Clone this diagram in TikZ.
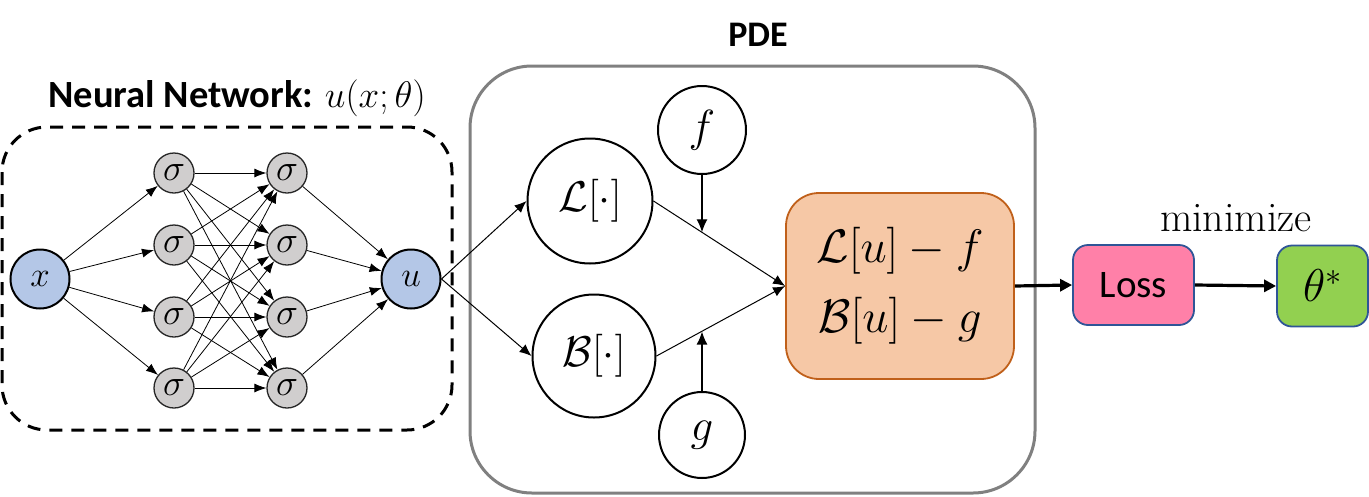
\RequirePackage{fix-cm}
\documentclass[tikz,border=0pt]{standalone}
\usepackage{fontspec}
\newfontfamily\carlito{Carlito}
\usetikzlibrary{arrows.meta,calc}
\definecolor{nnblue}{HTML}{B4C7E7}
\definecolor{sgray}{HTML}{D0CECE}
\definecolor{pdegray}{HTML}{808080}
\definecolor{resfill}{HTML}{F6C8A6}
\definecolor{resdraw}{HTML}{C0601A}
\definecolor{losspink}{HTML}{FF80A8}
\definecolor{boxblue}{HTML}{2F5597}
\definecolor{thgreen}{HTML}{92D050}
\begin{document}
\begin{tikzpicture}[x=1pt,y=-1pt,
  sig/.style={circle,draw=black!85,fill=sgray,line width=1.3pt,minimum size=40pt,inner sep=0pt,font=\fontsize{37}{42}\selectfont},
  io/.style={circle,draw=black,fill=nnblue,line width=2pt,minimum size=59pt,inner sep=0pt,font=\fontsize{35}{40}\selectfont},
  opnode/.style={circle,draw=black,line width=2pt,minimum size=125pt,inner sep=0pt,font=\fontsize{43}{50}\selectfont},
  srcnode/.style={circle,draw=black,line width=2pt,minimum size=88pt,inner sep=0pt,font=\fontsize{45}{54}\selectfont},
  nnarrow/.style={line width=0.8pt,-{Latex[length=12pt,width=9pt]}},
  pdearrow/.style={line width=1pt,-{Latex[length=12pt,width=10pt]}},
  srcarrow/.style={line width=1.3pt,-{Latex[length=13pt,width=11pt]}},
  thickarrow/.style={line width=3.2pt,-{Triangle[length=12pt,width=12pt]}},
  smallbox/.style={draw=boxblue,line width=1.8pt,rounded corners=15pt,inner sep=0pt},
  title/.style={font=\carlito\bfseries\fontsize{36}{42}\selectfont}
]
\useasboundingbox (0,0) rectangle (1369,496);

% Neural network frame and title
\draw[line width=3pt,dash pattern=on 13pt off 9pt,rounded corners=45pt] (2,127) rectangle (452,430);
\node[title,font=\carlito\bfseries\fontsize{38.5}{44}\selectfont,anchor=base] (nntitle) at (237,107) {Neural Network: \fontsize{37}{44}\selectfont$u(x;\theta)$};

% Network nodes
\node[io] (x) at (40,279) {$x$};
\node[io] (u) at (411,279) {$u$};
\foreach \i/\yy in {1/173,2/245,3/317,4/388} {
  \node[sig] (a\i) at (174,\yy) {$\sigma$};
  \node[sig] (b\i) at (287,\yy) {$\sigma$};
}
\foreach \i in {1,...,4} {
  \draw[nnarrow] (x) -- (a\i);
  \draw[nnarrow] (b\i) -- (u);
  \foreach \j in {1,...,4} {\draw[nnarrow] (a\i) -- (b\j);}
}

% PDE frame and title
\draw[draw=pdegray,line width=3pt,rounded corners=62pt] (470,66) rectangle (1035,493);
\node[title] (pdetitle) at (758,35) {PDE};

\node[opnode] (L) at (590,201) {$\mathcal{L}[\cdot]$};
\node[opnode,minimum size=123pt] (B) at (594,356) {$\mathcal{B}[\cdot]$};
\node[srcnode] (f) at (702,130) {$f$};
\node[srcnode,minimum size=86pt] (g) at (702,435) {$g$};
\node[draw=resdraw,fill=resfill,line width=1.8pt,rounded corners=33pt,minimum width=228pt,minimum height=186pt,inner sep=0pt,align=center,font=\fontsize{47}{70}\selectfont] (res) at (900,286) {$\mathcal{L}[u]-f$\\$\mathcal{B}[u]-g$};

\draw[pdearrow] (u.east) -- (L.west);
\draw[pdearrow] (u.east) -- (B.west);
\draw[pdearrow] (L.east) -- (res.west);
\draw[pdearrow] (B.east) -- (res.west);
\coordinate (fi) at ($(L.east)!0.368!(res.west)$);
\coordinate (gi) at ($(B.east)!0.349!(res.west)$);
\draw[srcarrow] (f.south) -- (f.south |- fi);
\draw[srcarrow] (g.north) -- (g.north |- gi);

% Loss and result
\node[smallbox,fill=losspink,minimum width=121pt,minimum height=80pt,font=\carlito\fontsize{39}{46}\selectfont] (loss) at (1133.5,285) {Loss};
\node[smallbox,fill=thgreen,minimum width=91pt,minimum height=81pt,font=\fontsize{46}{54}\selectfont] (theta) at (1322.5,286) {$\theta^*$};
\node[font=\fontsize{42}{48}\selectfont] (minlabel) at (1236,218) {$\mathrm{minimize}$};
\draw[thickarrow] (res.east) -- (loss.west);
\draw[thickarrow] (loss.east) -- (theta.west);
\end{tikzpicture}
\end{document}
